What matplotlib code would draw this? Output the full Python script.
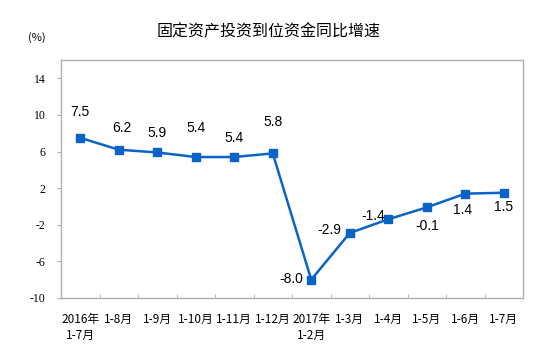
import matplotlib
matplotlib.use("Agg")
import matplotlib.pyplot as plt
import numpy as np

plt.rcParams['font.family'] = ['Noto Sans CJK SC', 'DejaVu Sans']

categories = ["2016年\n1-7月", "1-8月", "1-9月", "1-10月", "1-11月", "1-12月",
              "2017年\n1-2月", "1-3月", "1-4月", "1-5月", "1-6月", "1-7月"]
values = [7.5, 6.2, 5.9, 5.4, 5.4, 5.8, -8.0, -2.9, -1.4, -0.1, 1.4, 1.5]
value_labels = ["7.5", "6.2", "5.9", "5.4", "5.4", "5.8", "-8.0", "-2.9", "-1.4", "-0.1", "1.4", "1.5"]
yticks = [-10, -6, -2, 2, 6, 10, 14]
title = "固定资产投资到位资金同比增速"
unit = "(%)"

# label offsets in pixels (dx, dy) -- styling
label_offsets = [(0, 26), (3, 22), (0, 19), (0, 29), (0, 19), (0, 31),
                 (-20, 1), (-20, 3), (-15, 3), (1, -19), (-3, -16), (0, -14)]

fig = plt.figure(figsize=(5.53, 3.62), dpi=100)
ax = fig.add_axes([61/553, 64/362, 462/553, 238/362])

x = np.arange(len(values))
color = '#0a64c8'
ax.plot(x, values, color=color, lw=1.8, marker='s', markersize=5.5,
        markerfacecolor=color, markeredgecolor=color, zorder=3)

for xi, v, lab, (dx, dy) in zip(x, values, value_labels, label_offsets):
    ax.annotate(lab, (xi, v), xytext=(dx, dy), textcoords='offset pixels',
                ha='center', va='center', fontsize=10, family='Liberation Sans',
                color='#000000')

ax.set_xlim(-0.5, len(values) - 0.5)
ax.set_ylim(-10, 16)
ax.set_yticks(yticks)
ax.set_yticklabels([str(t) for t in yticks], family='Liberation Serif', fontsize=8.5)
ax.tick_params(axis='y', length=3, color='#b0b0b0', pad=8, direction='out')

ax.set_xticks(x)
ax.set_xticklabels(categories, fontsize=8.5, linespacing=1.25)
ax.tick_params(axis='x', which='major', length=0, pad=11)
ax.set_xticks(np.arange(0.5, len(values) - 0.5, 1), minor=True)
ax.tick_params(axis='x', which='minor', length=3, direction='in', color='#b0b0b0')

for s in ax.spines.values():
    s.set_color('#b0b0b0')
    s.set_linewidth(1.0)

fig.text(269/553, 1 - 32/362, title, ha='center', va='center', fontsize=11.5)
fig.text(37/553, 1 - 38/362, unit, ha='center', va='center', fontsize=8)

fig.savefig("out.png", dpi=100)
